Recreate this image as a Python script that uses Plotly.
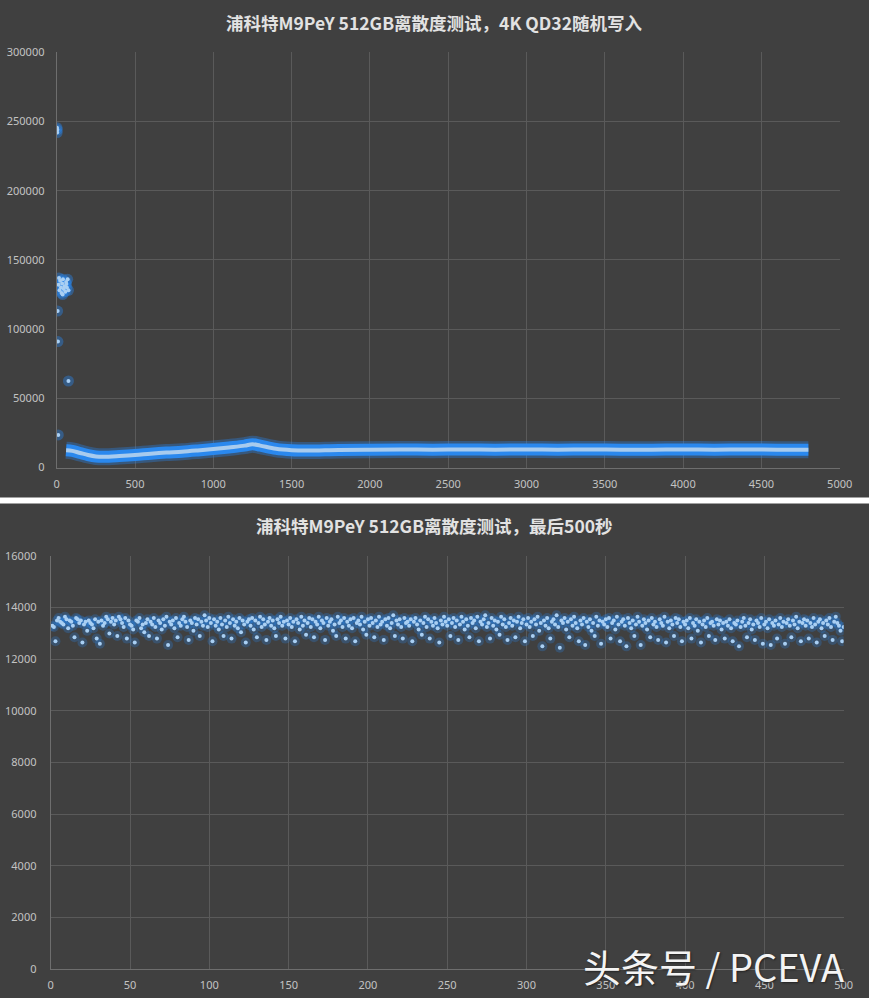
import plotly.graph_objects as go

# ---------------- data: top chart (4K QD32 random write, full run) ----------------
early_x = [2, 3, 6, 8, 10, 4, 75,
           12, 18, 22, 27, 31, 35, 40, 45, 50, 55, 60, 65, 70, 75, 15, 38, 62]
early_y = [245500, 242000, 113000, 91000, 23500, 244000, 62500,
           132000, 128000, 135000, 130000, 126000, 133000, 136000, 129000,
           131000, 127000, 134000, 130000, 136000, 128000, 137000, 125000, 132500]

band_x = [60, 100, 150, 200, 250, 300, 400, 500, 600, 700, 800, 900, 1000, 1100,
          1200, 1250, 1300, 1400, 1500, 1600, 1800, 2000, 2200, 2400, 2600, 2800,
          3000, 3200, 3400, 3600, 3800, 4000, 4200, 4400, 4600, 4800]
band_y = [12500, 12000, 10500, 9000, 8000, 7800, 8300, 9000, 10000, 10800, 11400,
          12300, 13300, 14500, 15800, 16800, 15800, 13500, 12500, 12300, 12700,
          12900, 13000, 12900, 13000, 12900, 13000, 12900, 13000, 12900, 12900,
          13000, 12900, 13000, 12900, 12900]

top_xticks = [0, 500, 1000, 1500, 2000, 2500, 3000, 3500, 4000, 4500, 5000]
top_yticks = [0, 50000, 100000, 150000, 200000, 250000, 300000]

# ---------------- data: bottom chart (last 500 seconds) ----------------
last_y = [
    13300, 13250, 12700, 13500, 13600, 13450, 13400, 13350, 13650, 13550, 13200, 13500, 13450, 13300, 12850, 13600, 13550, 13400, 13500, 12650, 13350, 13450, 13100, 13500, 13400,
    13350, 13200, 13550, 12800, 13450, 12600, 13500, 13300, 13400, 13650, 13550, 13000, 13450, 13600, 13350, 13500, 12900, 13650, 13550, 13400, 13250, 13600, 12800, 13500, 13350,
    13300, 13150, 12650, 13500, 13450, 13600, 13200, 13350, 13050, 13400, 13550, 12900, 13450, 13350, 13600, 13250, 12800, 13500, 13400, 13150, 13550, 13300, 13650, 12550, 13450,
    13350, 13500, 13200, 13600, 12850, 13400, 13300, 13550, 13650, 13450, 13250, 12750, 13500, 13400, 13100, 13600, 13350, 13550, 12900, 13450, 13300, 13700, 13500, 13250, 13600,
    13400, 12700, 13550, 13300, 13450, 13150, 13600, 13350, 12900, 13500, 13250, 13650, 13400, 12800, 13550, 13300, 13450, 13200, 13600, 13050, 13500, 13350, 12650, 13450, 13550,
    13300, 13600, 13150, 13500, 12850, 13400, 13650, 13250, 13550, 13350, 12750, 13450, 13600, 13300, 13500, 13200, 12900, 13550, 13400, 13650, 13300, 13450, 12800, 13500, 13350,
    13600, 13250, 13450, 12700, 13550, 13400, 13150, 13650, 13300, 13500, 12950, 13400, 13600, 13250, 13550, 12850, 13450, 13350, 13650, 13200, 13500, 13400, 12750, 13600, 13300,
    13450, 13550, 13100, 13350, 12900, 13650, 13400, 13500, 13250, 13600, 12800, 13450, 13300, 13550, 13200, 13600, 12700, 13400, 13500, 13350, 13650, 13150, 13450, 12950, 13550,
    13300, 13600, 13400, 12850, 13500, 13250, 13650, 13350, 13450, 12750, 13550, 13300, 13600, 13200, 13400, 13700, 12900, 13500, 13350, 13550, 13250, 12800, 13600, 13400, 13450,
    13300, 13550, 12700, 13450, 13600, 13350, 13150, 13500, 12950, 13400, 13650, 13250, 13550, 12800, 13450, 13300, 13600, 13400, 13200, 12650, 13500, 13350, 13650, 13450, 13300,
    13550, 12900, 13400, 13600, 13250, 13500, 12750, 13350, 13650, 13450, 13150, 13550, 13300, 12850, 13600, 13400, 13500, 13200, 13650, 12700, 13450, 13350, 13550, 13700, 13250,
    13400, 12800, 13600, 13300, 13500, 13150, 13450, 12950, 13650, 13350, 13550, 13250, 12750, 13400, 13600, 13300, 13500, 12850, 13450, 13650, 13200, 13400, 13550, 12700, 13350,
    13600, 13250, 13450, 12900, 13550, 13350, 13650, 13100, 13400, 12500, 13500, 13300, 13600, 13200, 12800, 13450, 13550, 13350, 13700, 13250, 12450, 13500, 13400, 13600, 13150,
    13450, 12850, 13550, 13300, 13650, 13400, 13200, 12700, 13500, 13350, 13600, 12550, 13450, 13250, 13550, 13100, 13400, 12900, 13650, 13300, 13500, 12600, 13450, 13350, 13550,
    13250, 13600, 12800, 13400, 13500, 13150, 13650, 13350, 12700, 13450, 13550, 13300, 12500, 13600, 13400, 13200, 13500, 12900, 13350, 13650, 13450, 12550, 13300, 13550, 13400,
    13150, 13500, 12850, 13600, 13350, 13450, 13250, 12750, 13550, 13400, 13300, 13650, 12650, 13450, 13200, 13500, 13350, 12900, 13600, 13400, 13550, 13250, 12700, 13450, 13350,
    13500, 13200, 13600, 12800, 13400, 13300, 13550, 13100, 13450, 12650, 13350, 13500, 13250, 13600, 12900, 13400, 13450, 13300, 12750, 13550, 13350, 13500, 13150, 13400, 12800,
    13450, 13300, 13550, 13200, 12700, 13400, 13350, 13500, 12500, 13250, 13450, 13600, 13300, 12850, 13400, 13550, 13150, 13350, 12750, 13500, 13400, 13250, 13600, 12600, 13350,
    13450, 13200, 13550, 12550, 13400, 13300, 13500, 12800, 13350, 13600, 13250, 13450, 12600, 13400, 13550, 13300, 12850, 13500, 13350, 13650, 13200, 13450, 12700, 13400, 13550,
    13300, 13500, 12800, 13400, 13250, 13600, 13350, 12650, 13450, 13550, 13200, 13400, 12900, 13500, 13350, 13600, 13250, 12750, 13450, 13650, 13400, 13300, 13100, 12700, 13250,
]
last_x = list(range(1, len(last_y) + 1))

bot_xticks = [0, 50, 100, 150, 200, 250, 300, 350, 400, 450, 500]
bot_yticks = [0, 2000, 4000, 6000, 8000, 10000, 12000, 14000, 16000]

title_top = "浦科特M9PeY 512GB离散度测试，4K QD32随机写入"
title_bot = "浦科特M9PeY 512GB离散度测试，最后500秒"
watermark = "头条号 / PCEVA"

# ---------------- styling ----------------
W, H = 869, 1000
BG = "#404040"
GRID = "#5a5a5a"
TICKC = "#c3c3c3"
GLOW = "rgba(40,135,240,0.40)"
DOT = "#a9cff3"
FONT = "Noto Sans, Open Sans, sans-serif"
CJK = "Noto Sans CJK SC"

fig = go.Figure()

# top chart: band (glow + body + light core)
fig.add_trace(go.Scatter(x=band_x, y=band_y, mode="lines", xaxis="x", yaxis="y",
                         line=dict(color="rgba(40,135,240,0.35)", width=17, shape="spline"),
                         hoverinfo="skip", showlegend=False))
fig.add_trace(go.Scatter(x=band_x, y=band_y, mode="lines", xaxis="x", yaxis="y",
                         line=dict(color="#2a88ee", width=12, shape="spline"),
                         hoverinfo="skip", showlegend=False))
fig.add_trace(go.Scatter(x=band_x, y=band_y, mode="lines", xaxis="x", yaxis="y",
                         line=dict(color="#a8cbee", width=4, shape="spline"),
                         showlegend=False))
# top chart: early scattered points
fig.add_trace(go.Scatter(x=early_x, y=early_y, mode="markers", xaxis="x", yaxis="y",
                         marker=dict(color=GLOW, size=11, line=dict(width=0)),
                         hoverinfo="skip", showlegend=False))
fig.add_trace(go.Scatter(x=early_x, y=early_y, mode="markers", xaxis="x", yaxis="y",
                         marker=dict(color=DOT, size=4, line=dict(width=0)),
                         showlegend=False))

# bottom chart: last 500 s
fig.add_trace(go.Scatter(x=last_x, y=last_y, mode="markers", xaxis="x2", yaxis="y2",
                         marker=dict(color="rgba(40,135,240,0.25)", size=10, line=dict(width=0)),
                         hoverinfo="skip", showlegend=False))
fig.add_trace(go.Scatter(x=last_x, y=last_y, mode="markers", xaxis="x2", yaxis="y2",
                         marker=dict(color=DOT, size=4, line=dict(width=0)),
                         showlegend=False))

axis_common = dict(showgrid=True, gridcolor=GRID, gridwidth=1, zeroline=False,
                   showline=True, linecolor="#6e6e6e", linewidth=1,
                   tickfont=dict(family=FONT, size=11, color=TICKC),
                   ticks="", mirror=False, fixedrange=True, tickformat="d",
                   automargin=False)

fig.update_layout(
    width=W, height=H, autosize=False,
    margin=dict(l=0, r=0, t=0, b=0, pad=0, autoexpand=False),
    paper_bgcolor=BG, plot_bgcolor="rgba(0,0,0,0)",
    showlegend=False,
    xaxis=dict(axis_common, domain=[56.7 / W, 839.7 / W], range=[0, 5000],
               tickvals=top_xticks, anchor="y", ticklabelstandoff=6),
    yaxis=dict(axis_common, domain=[1 - 467.5 / H, 1 - 52.3 / H], range=[0, 300000],
               tickvals=top_yticks, anchor="x", ticklabelstandoff=9),
    xaxis2=dict(axis_common, domain=[50.7 / W, 843.7 / W], range=[0, 500],
                tickvals=bot_xticks, anchor="y2", ticklabelstandoff=6),
    yaxis2=dict(axis_common, domain=[1 - 969 / H, 1 - 556 / H], range=[0, 16000],
                tickvals=bot_yticks, anchor="x2", ticklabelstandoff=11),
    shapes=[
        dict(type="rect", xref="paper", yref="paper", x0=0, x1=1,
             y0=1 - 503.5 / H, y1=1 - 497.5 / H, fillcolor="white", line=dict(width=0),
             layer="above"),
        dict(type="rect", xref="paper", yref="paper", x0=0, x1=1,
             y0=0, y1=2 / H, fillcolor="white", line=dict(width=0), layer="above"),
    ],
    annotations=[
        dict(text=title_top, xref="paper", yref="paper", x=434 / W, y=1 - 22 / H,
             xanchor="center", yanchor="middle", showarrow=False,
             font=dict(family=CJK, size=17.5, color="#e2e2e2", weight="bold")),
        dict(text=title_bot, xref="paper", yref="paper", x=434 / W, y=1 - 525 / H,
             xanchor="center", yanchor="middle", showarrow=False,
             font=dict(family=CJK, size=17.5, color="#e2e2e2", weight="bold")),
        dict(text=watermark, xref="paper", yref="paper", x=846 / W, y=1 - 965 / H,
             xanchor="right", yanchor="middle", showarrow=False,
             font=dict(family=CJK, size=38, color="#f4f4f4", shadow="1px 1px 2px #222")),
    ],
)

fig.write_html("out.html", config={"responsive": False, "displayModeBar": False},
               post_script="document.body.style.margin='0';document.body.style.overflow='hidden';")
